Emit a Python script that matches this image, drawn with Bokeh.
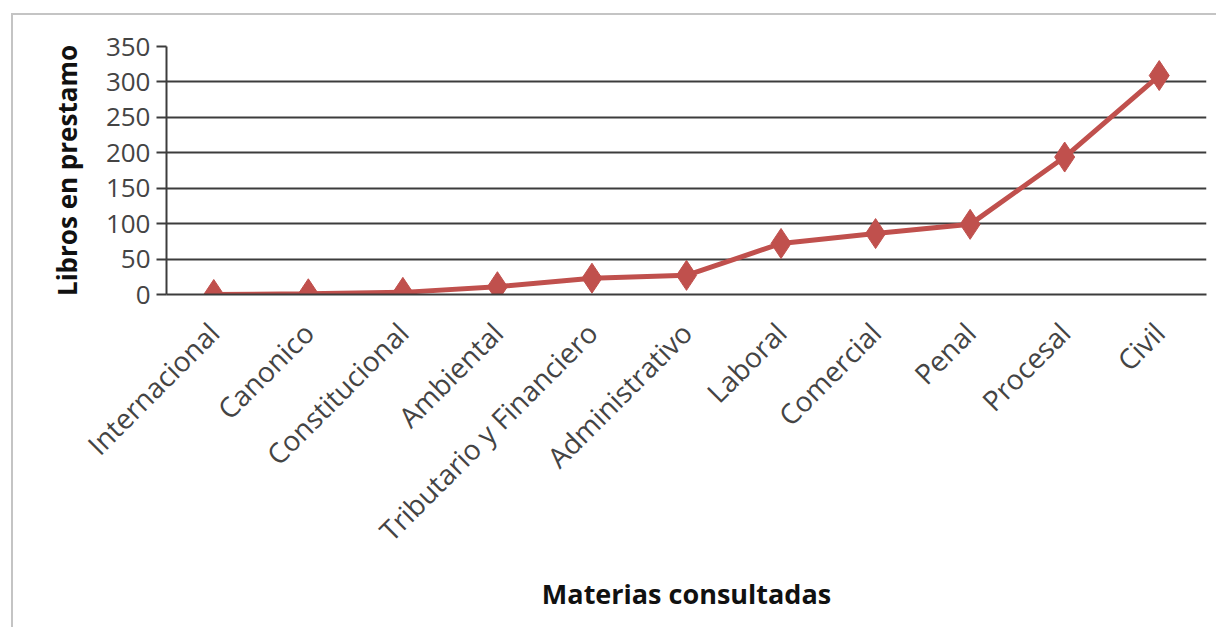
import math
from bokeh.plotting import figure
from bokeh.models import Range1d, FactorRange, FixedTicker
from bokeh.embed import file_html
from bokeh.resources import INLINE

materias = ["Internacional", "Canonico", "Constitucional", "Ambiental",
            "Tributario y Financiero", "Administrativo", "Laboral",
            "Comercial", "Penal", "Procesal", "Civil"]
libros = [0, 1, 3, 11, 23, 27, 72, 86, 99, 194, 309]
y_ticks = [0, 50, 100, 150, 200, 250, 300, 350]

FONT = "Open Sans"
RED = "#C0504D"
DARK = "#3c3c3c"

p = figure(x_range=FactorRange(*materias), y_range=Range1d(0, 350),
           width=1205, height=614, output_backend="svg", toolbar_location=None,
           min_border_left=153, min_border_right=12, min_border_top=31,
           min_border_bottom=335)
p.margin = (13, 0, 0, 11)
p.styles = {"border-left": "2px solid #c4c4c4", "border-top": "2px solid #c4c4c4"}
p.outline_line_color = None
p.background_fill_color = "white"
p.border_fill_color = "white"

p.xgrid.grid_line_color = None
p.ygrid.grid_line_color = DARK
p.ygrid.grid_line_width = 2
p.yaxis.ticker = FixedTicker(ticks=y_ticks)

p.line(x=materias, y=libros, line_color=RED, line_width=5)
p.scatter(x=materias, y=libros, marker="diamond", size=30, fill_color=RED, line_color=RED)

ya = p.yaxis[0]
ya.axis_line_color = DARK
ya.axis_line_width = 2
ya.major_tick_out = 10
ya.major_tick_in = 0
ya.major_tick_line_color = DARK
ya.major_tick_line_width = 2
ya.minor_tick_line_color = None
ya.major_label_text_font = FONT
ya.major_label_text_font_size = "26px"
ya.major_label_text_color = "#444444"
ya.major_label_standoff = 6
ya.axis_label = "Libros en prestamo"
ya.axis_label_text_font = FONT
ya.axis_label_text_font_style = "bold"
ya.axis_label_text_font_size = "26px"
ya.axis_label_text_color = "#111111"
ya.axis_label_standoff = 18

xa = p.xaxis[0]
xa.axis_line_color = DARK
xa.axis_line_width = 2
xa.major_tick_line_color = None
xa.minor_tick_line_color = None
xa.major_label_orientation = math.pi / 4
xa.major_label_text_font = FONT
xa.major_label_text_font_size = "28px"
xa.major_label_text_color = "#444444"
xa.major_label_standoff = 27
xa.axis_label = "Materias consultadas"
xa.axis_label_text_font = FONT
xa.axis_label_text_font_style = "bold"
xa.axis_label_text_font_size = "27px"
xa.axis_label_text_color = "#111111"
xa.axis_label_standoff = 10

open("out.html", "w").write(file_html(p, INLINE))
